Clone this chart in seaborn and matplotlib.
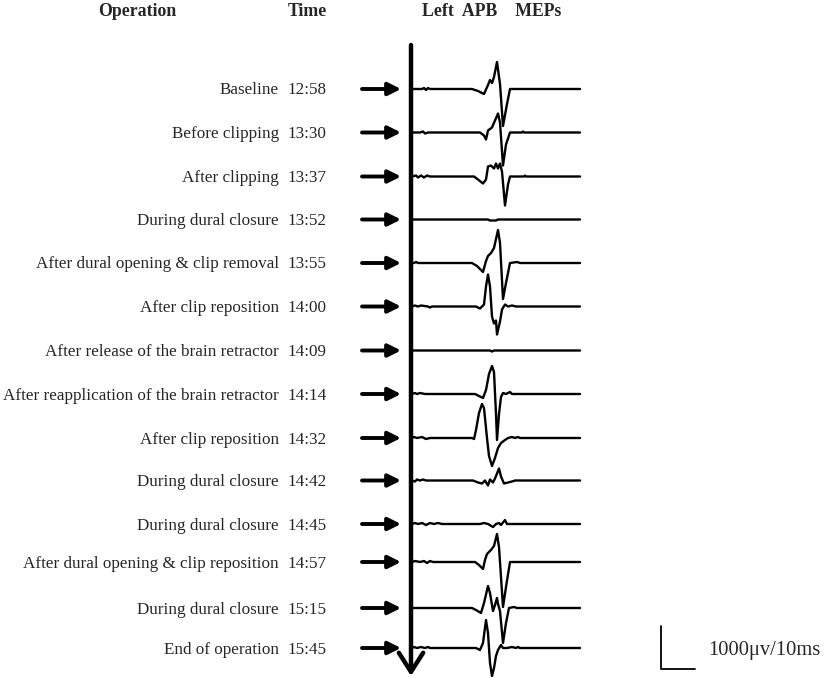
import pandas as pd
import matplotlib
matplotlib.use("Agg")
import matplotlib.pyplot as plt
import seaborn as sns

# rows of the monitoring table
operations = [
    "Baseline",
    "Before clipping",
    "After clipping",
    "During dural closure",
    "After dural opening & clip removal",
    "After clip reposition",
    "After release of the brain retractor",
    "After reapplication of the brain retractor",
    "After clip reposition",
    "During dural closure",
    "During dural closure",
    "After dural opening & clip reposition",
    "During dural closure",
    "End of operation",
]
times = ["12:58", "13:30", "13:37", "13:52", "13:55", "14:00", "14:09",
         "14:14", "14:32", "14:42", "14:45", "14:57", "15:15", "15:45"]
row_y = [89, 132.5, 176.5, 219.5, 263, 306.5, 350.5, 394, 438,
         480.5, 524, 562, 608, 648]

# MEP traces: (time step from sweep start, amplitude up)
mep_baseline = [(0, 0), (10, 0), (12, 1), (14, -1), (16, 1), (18, 0), (60, 0), (66, -2),
                (72, -5), (76, 4), (78, 9), (80, 6), (82, 12), (85, 27), (88, 5),
                (91, -37), (95, -15), (98, 0), (168, 0)]
mep_before_clip = [(0, 0), (8, 0), (11, 1), (13, -1), (16, 0), (68, 0), (72, -3), (74, -7),
                   (76, 2), (80, 5), (83, 12), (86, 19), (88, 10), (91, -33), (94, -12),
                   (98, 0), (110, 0), (111, 1), (112, 0), (168, 0)]
mep_after_clip = [(0, 0), (4, 1), (6, -1), (9, 1), (12, -1), (15, 1), (18, 0), (62, 0),
                  (66, -3), (71, -7), (74, -3), (76, 10), (79, 11), (82, 8), (84, 13),
                  (86, 8), (88, 13), (90, 5), (93, -29), (96, -8), (98, 0), (112, 0),
                  (113, 1), (114, 0), (168, 0)]
mep_closure_1 = [(0, 0), (76, 0), (78, -1), (84, -1), (86, 0), (168, 0)]
mep_clip_removal = [(0, 0), (2, 0), (4, 1), (6, 0), (60, 0), (65, -3), (71, -9), (74, 2),
                    (76, 7), (79, 10), (82, 15), (86, 33), (88, 20), (91, -36), (94, -20),
                    (98, 0), (105, 1), (108, 0), (168, 0)]
mep_reposition_1 = [(0, 0), (3, 1), (6, 0), (9, 1), (16, 0), (18, -1), (20, 0), (64, 0),
                    (68, -2), (72, 2), (74, 20), (76, 32), (78, 20), (80, -10), (82, -17),
                    (84, -14), (85, -28), (88, -15), (90, -3), (93, 2), (96, 0), (100, 1),
                    (104, 0), (110, 0), (168, 0)]
mep_release = [(0, 0), (78, 0), (80, -1), (82, 0), (168, 0)]
mep_reapply = [(0, 0), (3, 1), (5, 0), (8, 1), (13, 0), (63, 0), (67, -2), (71, -4),
               (74, 4), (77, 20), (80, 28), (82, 22), (84, -20), (85, -46), (87, -20),
               (89, -3), (91, 1), (94, 0), (98, 2), (100, 0), (168, 0)]
mep_reposition_2 = [(0, 0), (2, 1), (5, 0), (10, 1), (14, -1), (18, 0), (60, 0), (62, -1),
                    (64, 8), (67, 25), (70, 34), (72, 30), (75, 0), (77, -18), (80, -28),
                    (83, -20), (86, -10), (89, -5), (93, -2), (96, 0), (100, 1), (103, 0),
                    (106, 1), (108, 0), (168, 0)]
mep_closure_2 = [(0, 0), (3, -1), (5, 1), (8, 0), (11, 1), (14, 0), (61, 0), (66, -2),
                 (70, -3), (73, 0), (76, -5), (78, 1), (81, -2), (83, 2), (87, 12), (89, 4),
                 (92, -3), (96, -2), (100, -1), (103, 0), (168, 0)]
mep_closure_3 = [(0, 0), (3, 1), (6, 0), (10, 1), (14, -1), (18, 1), (22, 0), (26, 1),
                 (30, 0), (68, 0), (72, 1), (76, 0), (81, -3), (84, 0), (87, 1), (89, -1),
                 (93, 4), (95, 0), (168, 0)]
mep_reopen = [(0, 0), (3, 1), (8, 0), (12, 1), (15, -1), (18, 1), (21, 0), (63, 0),
              (67, -3), (71, -7), (73, 2), (75, 8), (79, 12), (82, 16), (85, 28), (87, 15),
              (91, -45), (94, -25), (98, 0), (168, 0)]
mep_closure_4 = [(0, 0), (60, 0), (64, -2), (69, -5), (72, 5), (76, 22), (78, 15), (81, -3),
                 (83, 3), (85, 10), (86, 4), (88, -3), (91, -35), (94, -15), (97, 0),
                 (102, 1), (105, 0), (168, 0)]
mep_end = [(0, 0), (2, 1), (5, 0), (9, 1), (13, 0), (16, 1), (18, 0), (64, 0), (68, -2),
           (71, 5), (74, 28), (76, 15), (78, -15), (80, -28), (82, -20), (84, -8),
           (86, -2), (89, 3), (91, 0), (95, 0), (100, 1), (104, 0), (106, 1), (108, 0),
           (168, 0)]

meps = [mep_baseline, mep_before_clip, mep_after_clip, mep_closure_1, mep_clip_removal,
        mep_reposition_1, mep_release, mep_reapply, mep_reposition_2, mep_closure_2,
        mep_closure_3, mep_reopen, mep_closure_4, mep_end]

SWEEP_X0 = 412
LABEL_X = 279
TIME_X = 288

records = []
for i, pts in enumerate(meps):
    for t, a in pts:
        records.append({"row": i, "x": SWEEP_X0 + t, "y": row_y[i] - a})
df = pd.DataFrame(records)

sns.set_theme(style="white")
plt.rcParams["font.family"] = ["Liberation Serif", "DejaVu Serif"]

fig = plt.figure(figsize=(8.27, 6.78), dpi=100)
ax = fig.add_axes([0, 0, 1, 1])

sns.lineplot(data=df, x="x", y="y", units="row", estimator=None, sort=False,
             color="black", lw=1.7, legend=False, ax=ax)

# headers
ax.text(137, 16.5, "Operation", ha="center", va="baseline", fontsize=12.8, fontweight="bold")
ax.text(288, 16.5, "Time", ha="left", va="baseline", fontsize=12.8, fontweight="bold")
ax.text(422, 16.5, "Left  APB    MEPs", ha="left", va="baseline", fontsize=12.8,
        fontweight="bold")

for op, tm, y in zip(operations, times, row_y):
    ax.text(LABEL_X, y + 5.5, op, ha="right", va="baseline", fontsize=12.3)
    ax.text(TIME_X, y + 5.5, tm, ha="left", va="baseline", fontsize=12.3)
    ax.annotate("", xy=(401, y), xytext=(362, y),
                arrowprops=dict(arrowstyle="-|>", lw=2.8, color="black",
                                mutation_scale=19, shrinkA=0, shrinkB=0))

# time axis running down
ax.annotate("", xy=(411, 676), xytext=(411, 45),
            arrowprops=dict(arrowstyle="->,head_length=0.55,head_width=0.35", lw=3.2,
                            color="black", mutation_scale=25, shrinkA=0, shrinkB=0))

# calibration bar
ax.plot([661, 661, 695], [626, 669, 669], color="black", lw=1.3)
ax.text(708, 655, "1000\u03bcv/10ms", ha="left", va="baseline", fontsize=14.8)

ax.set_xlim(0, 827)
ax.set_ylim(678, 0)
ax.axis("off")

fig.savefig("out.png", dpi=100)
plt.close(fig)
